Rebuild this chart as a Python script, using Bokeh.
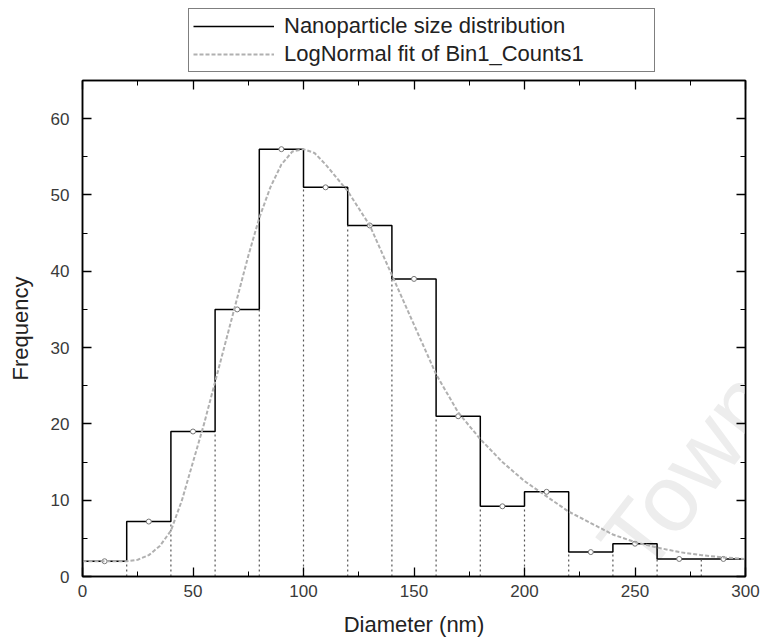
from bokeh.plotting import figure
from bokeh.layouts import column
from bokeh.models import (LinearAxis, SingleIntervalTicker, Legend, LegendItem, Range1d,
                          CustomJSTickFormatter, Label)
from bokeh.embed import file_html
from bokeh.resources import INLINE

# ---- data ----
bin_edges = [0, 20, 40, 60, 80, 100, 120, 140, 160, 180, 200, 220, 240, 260, 280, 300]
counts = [2, 7.2, 19, 35, 56, 51, 46, 39, 21, 9.2, 11.1, 3.2, 4.3, 2.3, 2.3]

fit_x = [0, 10, 20, 25, 30, 35, 40, 45, 50, 55, 60, 65, 70, 75, 80, 85, 90, 95, 100,
         105, 110, 120, 130, 140, 150, 160, 170, 180, 190, 200, 210, 220, 230, 240,
         250, 260, 270, 280, 290, 300]
fit_y = [2.0, 2.0, 2.0, 2.2, 2.8, 4.0, 6.0, 10.0, 15.0, 20.0, 25.5, 31.0, 36.5, 42.0,
         47.0, 51.0, 54.0, 55.7, 56.0, 55.5, 54.0, 50.5, 46.0, 39.5, 33.0, 26.5, 21.5,
         18.0, 15.0, 12.5, 10.5, 8.5, 7.0, 5.5, 4.5, 3.8, 3.2, 2.8, 2.5, 2.3]

legend_labels = ["Nanoparticle size distribution", "LogNormal fit of Bin1_Counts1"]
x_label = "Diameter (nm)"
y_label = "Frequency"
watermark = "Cape Town"

FONT = "Liberation Sans"
HIST_STYLE = dict(line_color="black", line_width=1.5)
FIT_STYLE = dict(line_color="#b0b0b0", line_width=2, line_dash="4 2")

# step outline built from the bins
sx, sy = [bin_edges[0]], [0]
for i, c in enumerate(counts):
    sx += [bin_edges[i], bin_edges[i + 1]]
    sy += [c, c]
sx.append(bin_edges[-1]); sy.append(0)

# ---------------- main plot ----------------
p = figure(frame_width=663, frame_height=496, output_backend="svg", toolbar_location=None,
           x_range=Range1d(0, 300), y_range=Range1d(0, 65),
           min_border_left=82, min_border_right=15, min_border_top=2, min_border_bottom=62)
p.background_fill_color = "white"
p.border_fill_color = "white"
p.xgrid.visible = False
p.ygrid.visible = False
p.outline_line_color = "black"
p.outline_line_width = 1.5

# faint scanned watermark behind the data
p.add_layout(Label(x=192, y=-28, text=watermark, angle=0.91, text_font=FONT,
                   text_font_size="95px", text_color="#ededed", level="underlay"))

p.line(sx, sy, **HIST_STYLE)

# interior shared edges (dotted)
ix = bin_edges[1:-1]
iy = [min(counts[i], counts[i + 1]) for i in range(len(counts) - 1)]
p.segment(x0=ix, y0=[0] * len(ix), x1=ix, y1=iy, line_color="#555555",
          line_width=1.2, line_dash="2 3")

centers = [(bin_edges[i] + bin_edges[i + 1]) / 2 for i in range(len(counts))]
p.scatter(centers, counts, marker="circle", size=5, line_color="#777777",
          fill_color="white", line_width=1)

p.line(fit_x, fit_y, **FIT_STYLE)

def style_axis(ax, labels=True):
    ax.axis_line_color = "black"
    ax.axis_line_width = 1.5
    ax.major_tick_line_color = "black"
    ax.minor_tick_line_color = "black"
    ax.major_tick_line_width = 1.3
    ax.minor_tick_line_width = 1.0
    ax.major_tick_in = 9
    ax.major_tick_out = 0
    ax.minor_tick_in = 5
    ax.minor_tick_out = 0
    ax.major_label_text_font = FONT
    if labels:
        ax.major_label_text_color = "#3a3a3a"
        ax.major_label_text_font_size = "17px"
    else:
        ax.formatter = CustomJSTickFormatter(code="return ''")
        ax.major_label_text_color = None
        ax.major_label_text_font_size = "1px"
        ax.major_label_standoff = 0
    ax.axis_label_text_font = FONT
    ax.axis_label_text_font_size = "22px"
    ax.axis_label_text_font_style = "normal"
    ax.axis_label_text_color = "#222222"

p.xaxis.ticker = SingleIntervalTicker(interval=50, num_minor_ticks=2)
p.yaxis.ticker = SingleIntervalTicker(interval=10, num_minor_ticks=2)
p.xaxis.axis_label = x_label
p.yaxis.axis_label = y_label
style_axis(p.xaxis[0])
style_axis(p.yaxis[0])
p.xaxis.major_label_standoff = 8
p.xaxis.axis_label_standoff = 12
p.yaxis.major_label_standoff = 13
p.yaxis.axis_label_standoff = 15

top_ax = LinearAxis(ticker=SingleIntervalTicker(interval=50, num_minor_ticks=2))
style_axis(top_ax, labels=False)
p.add_layout(top_ax, "above")
right_ax = LinearAxis(ticker=SingleIntervalTicker(interval=10, num_minor_ticks=2))
style_axis(right_ax, labels=False)
p.add_layout(right_ax, "right")

# ---------------- legend strip (same frame width, sits above the plot) ----------------
lg = figure(frame_width=663, frame_height=70, output_backend="svg", toolbar_location=None,
            x_range=Range1d(-2, -1), y_range=Range1d(-2, -1),
            min_border_left=82, min_border_right=15, min_border_top=8, min_border_bottom=0)
lg.axis.visible = False
lg.xgrid.visible = False
lg.ygrid.visible = False
lg.outline_line_color = None
lg.background_fill_color = "white"
lg.border_fill_color = "white"
r_h = lg.line(sx, sy, **HIST_STYLE)          # out of view: only feeds the legend glyph
r_f = lg.line(fit_x, fit_y, **FIT_STYLE)     # out of view: only feeds the legend glyph
legend = Legend(items=[LegendItem(label=legend_labels[0], renderers=[r_h]),
                       LegendItem(label=legend_labels[1], renderers=[r_f])],
                location=(106, 6), padding=4, spacing=2, margin=0,
                label_text_font=FONT, label_text_font_size="22px",
                label_text_color="#222222", label_height=26, glyph_height=26,
                glyph_width=81, label_standoff=10, label_width=366,
                border_line_color="black", border_line_width=1.3,
                background_fill_alpha=1.0)
lg.add_layout(legend, "center")

layout = column(lg, p, spacing=0)
open("out.html", "w").write(file_html(layout, INLINE))
